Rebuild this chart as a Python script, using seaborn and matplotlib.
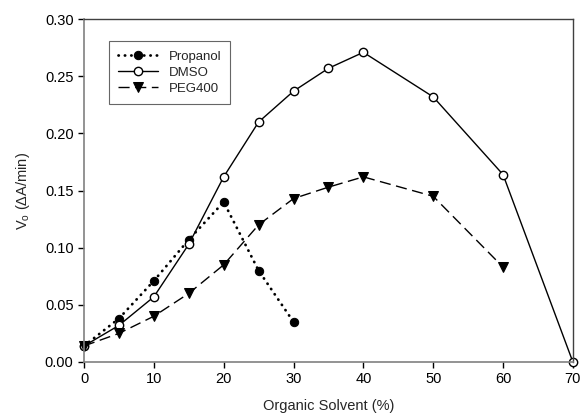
import matplotlib
matplotlib.use("Agg")
import matplotlib.pyplot as plt
import seaborn as sns

# data
propanol_x = [0, 5, 10, 15, 20, 25, 30]
propanol_y = [0.014, 0.038, 0.071, 0.107, 0.140, 0.080, 0.035]

dmso_x = [0, 5, 10, 15, 20, 25, 30, 35, 40, 50, 60, 70]
dmso_y = [0.014, 0.032, 0.057, 0.103, 0.162, 0.210, 0.237, 0.257, 0.271, 0.232, 0.164, 0.0]

peg_x = [0, 5, 10, 15, 20, 25, 30, 35, 40, 50, 60]
peg_y = [0.014, 0.025, 0.040, 0.060, 0.085, 0.120, 0.143, 0.153, 0.162, 0.145, 0.083]

x_ticks = [0, 10, 20, 30, 40, 50, 60, 70]
y_ticks = [0.00, 0.05, 0.10, 0.15, 0.20, 0.25, 0.30]

sns.set_style("white")
plt.rcParams["font.family"] = ["Liberation Sans", "DejaVu Sans"]
plt.rcParams["mathtext.default"] = "regular"

fig = plt.figure(figsize=(5.81, 4.17), dpi=100)
ax = fig.add_axes([0.1446, 0.132, 0.8414, 0.822])

sns.lineplot(x=propanol_x, y=propanol_y, ax=ax, color="black",
             linewidth=2.0, marker="o", markersize=6, markerfacecolor="black",
             markeredgecolor="black", label="Propanol")
sns.lineplot(x=dmso_x, y=dmso_y, ax=ax, color="black", linestyle="-",
             linewidth=1.0, marker="o", markersize=6, markerfacecolor="white",
             markeredgecolor="black", markeredgewidth=1.0, label="DMSO")
sns.lineplot(x=peg_x, y=peg_y, ax=ax, color="black", linewidth=1.0,
             marker="v", markersize=6.5, markerfacecolor="black",
             markeredgecolor="black", label="PEG400")
ax.lines[0].set_linestyle((0, (0.1, 2.2)))
ax.lines[0].set_dash_capstyle("round")
ax.lines[2].set_dashes((8, 4))

ax.set_xlim(0, 70)
ax.set_ylim(0, 0.30)
ax.set_xticks(x_ticks)
ax.set_yticks(y_ticks)
ax.set_yticklabels([f"{v:.2f}" for v in y_ticks])
for line in ax.lines:
    line.set_clip_on(False)

ax.tick_params(axis="both", direction="out", length=4, width=1, colors="black",
               labelsize=10.5, left=True, bottom=True)
for s in ["left", "bottom"]:
    ax.spines[s].set_color("#808080")
    ax.spines[s].set_linewidth(1.2)
for s in ["top", "right"]:
    ax.spines[s].set_color("#404040")
    ax.spines[s].set_linewidth(1.0)

ax.set_xlabel("Organic Solvent (%)", fontsize=10.5, labelpad=9)
ax.set_ylabel("V$_o$ (ΔA/min)", fontsize=10.5, labelpad=9)

leg = ax.legend(loc="upper left", bbox_to_anchor=(0.038, 0.955), fontsize=9.5,
                frameon=True, fancybox=False, edgecolor="#404040",
                handlelength=3.0, borderpad=0.7, labelspacing=0.3)
leg.get_frame().set_linewidth(0.8)

fig.savefig("out.png", dpi=100)
